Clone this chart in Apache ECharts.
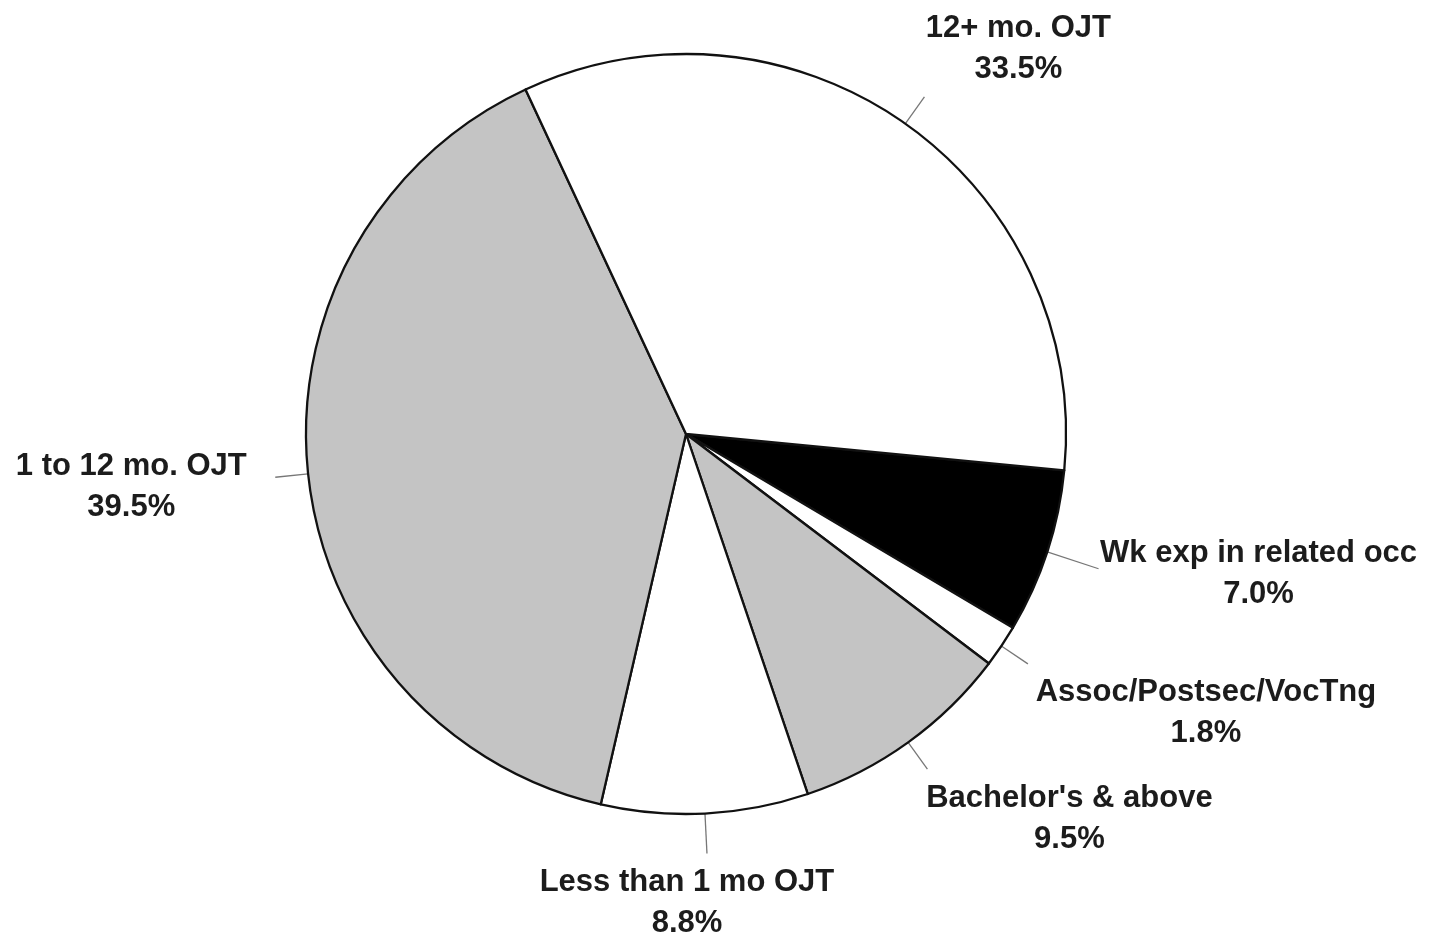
<!DOCTYPE html>
<html>
<head>
<meta charset="utf-8">
<script src="https://cdn.jsdelivr.net/npm/echarts@6/dist/echarts.min.js"></script>
<style>
html,body{margin:0;padding:0;background:#fff;}
#chart{width:1430px;height:935px;}
</style>
</head>
<body>
<div id="chart"></div>
<script>
// Data (clockwise from the black slice)
const categories = ["Wk exp in related occ", "Assoc/Postsec/VocTng", "Bachelor's & above", "Less than 1 mo OJT", "1 to 12 mo. OJT", "12+ mo. OJT"];
const values = [7.0, 1.8, 9.5, 8.8, 39.5, 33.5];
const valueLabels = ["7.0%", "1.8%", "9.5%", "8.8%", "39.5%", "33.5%"];

// Styling
const fills = ["#000000", "#ffffff", "#c4c4c4", "#ffffff", "#c4c4c4", "#ffffff"];
const tickLengths = [54, 32, 33, 40, 33, 33];
const labelOffsets = [[160, 5], [178, 49], [142, 50], [-20, 49], [-144, 10], [94, -48]];

const chart = echarts.init(document.getElementById('chart'), null, {renderer: 'canvas'});

const data = categories.map((name, i) => ({
  name: name,
  value: values[i],
  itemStyle: {color: fills[i]},
  labelLine: {length: tickLengths[i], length2: 0}
}));

chart.setOption({
  backgroundColor: '#ffffff',
  animation: false,
  series: [{
    type: 'pie',
    center: [686, 434],
    radius: [0, 380],
    startAngle: -5.5,
    clockwise: true,
    avoidLabelOverlap: false,
    data: data,
    itemStyle: {borderColor: '#111', borderWidth: 2.3},
    label: {
      show: true,
      position: 'outside',
      formatter: p => p.name + '\n' + valueLabels[p.dataIndex],
      fontFamily: 'Liberation Sans, Arial, sans-serif',
      fontSize: 31,
      fontWeight: 'bold',
      lineHeight: 41,
      color: '#1c1c1c',
      align: 'center',
      distanceToLabelLine: 0
    },
    labelLine: {
      show: true,
      lineStyle: {color: '#777', width: 1.3}
    },
    labelLayout: function (params) {
      const pts = params.labelLinePoints;
      if (!pts) return {};
      const end = pts[pts.length - 1];
      const off = labelOffsets[params.dataIndex];
      return {
        x: end[0] + off[0],
        y: end[1] + off[1],
        align: 'center',
        verticalAlign: 'middle',
        labelLinePoints: pts
      };
    },
    emphasis: {disabled: true}
  }]
});
</script>
</body>
</html>
